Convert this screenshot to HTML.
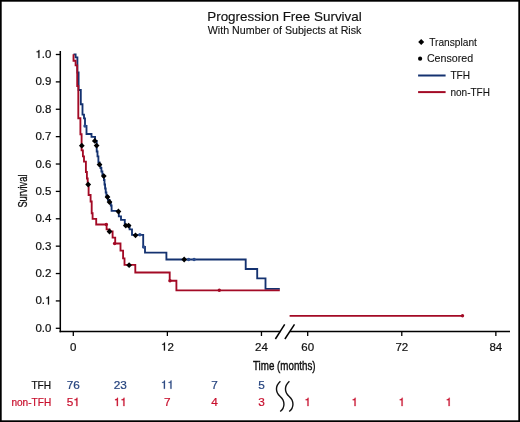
<!DOCTYPE html>
<html><head><meta charset="utf-8"><style>
html,body{margin:0;padding:0;background:#fff;overflow:hidden;width:520px;height:422px;}
svg{display:block;font-family:"Liberation Sans",sans-serif;will-change:transform;}
</style></head><body>
<svg width="520" height="422" viewBox="0 0 520 422">
<rect x="0.85" y="0.85" width="518.3" height="420.3" fill="#fff" stroke="#000" stroke-width="1.7"/>
<text x="207.2" y="21" font-size="13.6" textLength="154.6" lengthAdjust="spacingAndGlyphs" fill="#111" stroke="#111" stroke-width="0.15">Progression Free Survival</text>
<text x="207.8" y="34.2" font-size="10.6" textLength="153.6" lengthAdjust="spacingAndGlyphs" fill="#111" stroke="#111" stroke-width="0.12">With Number of Subjects at Risk</text>
<g stroke="#000" fill="none">
<line x1="60.3" y1="50.9" x2="60.3" y2="332.3" stroke-width="1.5"/>
<line x1="59.6" y1="331.5" x2="280.4" y2="331.5" stroke-width="1.6"/>
<line x1="290" y1="331.5" x2="510" y2="331.5" stroke-width="1.6"/>
<line x1="55.8" y1="54.50" x2="60.3" y2="54.50" stroke-width="1.3"/>
<line x1="55.8" y1="81.88" x2="60.3" y2="81.88" stroke-width="1.3"/>
<line x1="55.8" y1="109.26" x2="60.3" y2="109.26" stroke-width="1.3"/>
<line x1="55.8" y1="136.64" x2="60.3" y2="136.64" stroke-width="1.3"/>
<line x1="55.8" y1="164.02" x2="60.3" y2="164.02" stroke-width="1.3"/>
<line x1="55.8" y1="191.40" x2="60.3" y2="191.40" stroke-width="1.3"/>
<line x1="55.8" y1="218.78" x2="60.3" y2="218.78" stroke-width="1.3"/>
<line x1="55.8" y1="246.16" x2="60.3" y2="246.16" stroke-width="1.3"/>
<line x1="55.8" y1="273.54" x2="60.3" y2="273.54" stroke-width="1.3"/>
<line x1="55.8" y1="300.92" x2="60.3" y2="300.92" stroke-width="1.3"/>
<line x1="55.8" y1="328.30" x2="60.3" y2="328.30" stroke-width="1.3"/>
<line x1="73.30" y1="331.5" x2="73.30" y2="336.0" stroke-width="1.3"/>
<line x1="167.38" y1="331.5" x2="167.38" y2="336.0" stroke-width="1.3"/>
<line x1="261.46" y1="331.5" x2="261.46" y2="336.0" stroke-width="1.3"/>
<line x1="307.70" y1="331.5" x2="307.70" y2="336.0" stroke-width="1.3"/>
<line x1="401.78" y1="331.5" x2="401.78" y2="336.0" stroke-width="1.3"/>
<line x1="495.86" y1="331.5" x2="495.86" y2="336.0" stroke-width="1.3"/>
<line x1="275.4" y1="339" x2="284.7" y2="324.4" stroke-width="1.5"/>
<line x1="284.9" y1="339" x2="294.5" y2="324.4" stroke-width="1.5"/>
</g>
<path transform="translate(35.41 58.00) scale(0.01150 -0.01150)" d="M350 0L350 703L285 703C270 620 200 575 105 570L105 505L255 505L255 0Z" fill="#111" stroke="#111" stroke-width="19.0"/>
<text x="41.81" y="58.00" font-size="11.5" fill="#111" stroke="#111" stroke-width="0.22">.</text>
<text x="45.00" y="58.00" font-size="11.5" fill="#111" stroke="#111" stroke-width="0.22">0</text>
<text x="35.41" y="85.38" font-size="11.5" fill="#111" stroke="#111" stroke-width="0.22">0</text>
<text x="41.81" y="85.38" font-size="11.5" fill="#111" stroke="#111" stroke-width="0.22">.</text>
<text x="45.00" y="85.38" font-size="11.5" fill="#111" stroke="#111" stroke-width="0.22">9</text>
<text x="35.41" y="112.76" font-size="11.5" fill="#111" stroke="#111" stroke-width="0.22">0</text>
<text x="41.81" y="112.76" font-size="11.5" fill="#111" stroke="#111" stroke-width="0.22">.</text>
<text x="45.00" y="112.76" font-size="11.5" fill="#111" stroke="#111" stroke-width="0.22">8</text>
<text x="35.41" y="140.14" font-size="11.5" fill="#111" stroke="#111" stroke-width="0.22">0</text>
<text x="41.81" y="140.14" font-size="11.5" fill="#111" stroke="#111" stroke-width="0.22">.</text>
<text x="45.00" y="140.14" font-size="11.5" fill="#111" stroke="#111" stroke-width="0.22">7</text>
<text x="35.41" y="167.52" font-size="11.5" fill="#111" stroke="#111" stroke-width="0.22">0</text>
<text x="41.81" y="167.52" font-size="11.5" fill="#111" stroke="#111" stroke-width="0.22">.</text>
<text x="45.00" y="167.52" font-size="11.5" fill="#111" stroke="#111" stroke-width="0.22">6</text>
<text x="35.41" y="194.90" font-size="11.5" fill="#111" stroke="#111" stroke-width="0.22">0</text>
<text x="41.81" y="194.90" font-size="11.5" fill="#111" stroke="#111" stroke-width="0.22">.</text>
<text x="45.00" y="194.90" font-size="11.5" fill="#111" stroke="#111" stroke-width="0.22">5</text>
<text x="35.41" y="222.28" font-size="11.5" fill="#111" stroke="#111" stroke-width="0.22">0</text>
<text x="41.81" y="222.28" font-size="11.5" fill="#111" stroke="#111" stroke-width="0.22">.</text>
<text x="45.00" y="222.28" font-size="11.5" fill="#111" stroke="#111" stroke-width="0.22">4</text>
<text x="35.41" y="249.66" font-size="11.5" fill="#111" stroke="#111" stroke-width="0.22">0</text>
<text x="41.81" y="249.66" font-size="11.5" fill="#111" stroke="#111" stroke-width="0.22">.</text>
<text x="45.00" y="249.66" font-size="11.5" fill="#111" stroke="#111" stroke-width="0.22">3</text>
<text x="35.41" y="277.04" font-size="11.5" fill="#111" stroke="#111" stroke-width="0.22">0</text>
<text x="41.81" y="277.04" font-size="11.5" fill="#111" stroke="#111" stroke-width="0.22">.</text>
<text x="45.00" y="277.04" font-size="11.5" fill="#111" stroke="#111" stroke-width="0.22">2</text>
<text x="35.41" y="304.42" font-size="11.5" fill="#111" stroke="#111" stroke-width="0.22">0</text>
<text x="41.81" y="304.42" font-size="11.5" fill="#111" stroke="#111" stroke-width="0.22">.</text>
<path transform="translate(45.00 304.42) scale(0.01150 -0.01150)" d="M350 0L350 703L285 703C270 620 200 575 105 570L105 505L255 505L255 0Z" fill="#111" stroke="#111" stroke-width="19.0"/>
<text x="35.41" y="331.80" font-size="11.5" fill="#111" stroke="#111" stroke-width="0.22">0</text>
<text x="41.81" y="331.80" font-size="11.5" fill="#111" stroke="#111" stroke-width="0.22">.</text>
<text x="45.00" y="331.80" font-size="11.5" fill="#111" stroke="#111" stroke-width="0.22">0</text>
<text x="70.10" y="350.50" font-size="11.5" fill="#111" stroke="#111" stroke-width="0.22">0</text>
<path transform="translate(160.98 350.50) scale(0.01150 -0.01150)" d="M350 0L350 703L285 703C270 620 200 575 105 570L105 505L255 505L255 0Z" fill="#111" stroke="#111" stroke-width="19.0"/>
<text x="167.38" y="350.50" font-size="11.5" fill="#111" stroke="#111" stroke-width="0.22">2</text>
<text x="255.06" y="350.50" font-size="11.5" fill="#111" stroke="#111" stroke-width="0.22">2</text>
<text x="261.46" y="350.50" font-size="11.5" fill="#111" stroke="#111" stroke-width="0.22">4</text>
<text x="301.30" y="350.50" font-size="11.5" fill="#111" stroke="#111" stroke-width="0.22">6</text>
<text x="307.70" y="350.50" font-size="11.5" fill="#111" stroke="#111" stroke-width="0.22">0</text>
<text x="395.38" y="350.50" font-size="11.5" fill="#111" stroke="#111" stroke-width="0.22">7</text>
<text x="401.78" y="350.50" font-size="11.5" fill="#111" stroke="#111" stroke-width="0.22">2</text>
<text x="489.46" y="350.50" font-size="11.5" fill="#111" stroke="#111" stroke-width="0.22">8</text>
<text x="495.86" y="350.50" font-size="11.5" fill="#111" stroke="#111" stroke-width="0.22">4</text>
<text x="253.0" y="370.2" font-size="13.6" textLength="62.6" lengthAdjust="spacingAndGlyphs" fill="#111" stroke="#111" stroke-width="0.45">Time (months)</text>
<text transform="translate(26.6 191.05) rotate(-90)" x="-16.55" y="0" font-size="13.6" textLength="33.1" lengthAdjust="spacingAndGlyphs" fill="#111" stroke="#111" stroke-width="0.3">Survival</text>
<path d="M73.5 54.3 H75.6 V57.4 H77.4 V72.5 H78.6 V90 H80.8 V104.2 H82.5 V114.6 H84 V118.4 H85 V125.8 H86.5 V134
H91.5 V136.8 H95.1 V141 H96.7 V151.5 H97.5 V156.3 H98.4 V162.3 H99.6 V165.5 H100.5 V168 H101.4 V171.5 H102.4 V174.5 H103.2 V176.5 H103.9 V180 H104.5 V184.5 H105.1 V188.5 H105.7 V192.5 H106.4 V196.5
H108 V200 H109.6 V203 H110.8 V205.5 H111.6 V210.9 H118.8 V216.3 H121 V219.8 H124.8 V225.5 H129.6 V229.4 H132 V234.8 H143.2 V246.8
H145 V252.6 H166.4 V259.5 H245.7 V269 H257.2 V278.4 H265.5 V288.9 H279.8" fill="none" stroke="#143270" stroke-width="1.85"/>
<path d="M73.5 54.3 V60.7 H75.6 V65.4 H77.2 V86 H78.3 V118.2 H80.4 V134.2 H81.6 V150.3 H82.9 V156.3 H84 V161.6 H85.9 V172 H86.9 V178.5 H87.7 V184.5 H88.6 V195 H90.6 V201.5 H91.7 V213.2
H92.6 V218.8 H96.2 V224.5 H106.6 V229.3 H109.5 V231.4 H112.6 V237.6 H115.2 V243.5 H120.5 V250.6 H123.1 V258.3 H124.5 V264.9 H135.3 V272.5
H169.7 V280.7 H176.4 V290.3 H279.8" fill="none" stroke="#a30a25" stroke-width="1.85"/>
<path d="M289.6 315.8 H462.5" fill="none" stroke="#a30a25" stroke-width="1.85"/>
<circle cx="106.3" cy="224.5" r="1.7" fill="#a30a25"/>
<circle cx="114.6" cy="243.5" r="1.7" fill="#a30a25"/>
<circle cx="170" cy="280.7" r="1.7" fill="#a30a25"/>
<circle cx="219.3" cy="290.3" r="1.7" fill="#a30a25"/>
<circle cx="462.5" cy="315.8" r="1.7" fill="#a30a25"/>
<circle cx="139.9" cy="234.8" r="1.7" fill="#2c4c8c"/>
<circle cx="143.7" cy="247" r="1.7" fill="#2c4c8c"/>
<circle cx="188.6" cy="259.5" r="1.7" fill="#2c4c8c"/>
<circle cx="194.1" cy="259.5" r="1.7" fill="#2c4c8c"/>
<circle cx="85" cy="126" r="1.7" fill="#2c4c8c"/>
<path d="M81.8 142.8 L84.7 145.7 L81.8 148.6 L78.9 145.7 Z" fill="#000"/>
<path d="M88.2 181.6 L91.1 184.5 L88.2 187.4 L85.3 184.5 Z" fill="#000"/>
<path d="M109.5 228.6 L112.4 231.5 L109.5 234.4 L106.6 231.5 Z" fill="#000"/>
<path d="M129.1 262.3 L132.0 265.2 L129.1 268.1 L126.2 265.2 Z" fill="#000"/>
<path d="M94.8 138.0 L97.7 140.9 L94.8 143.8 L91.9 140.9 Z" fill="#000"/>
<path d="M96.6 142.7 L99.5 145.6 L96.6 148.5 L93.7 145.6 Z" fill="#000"/>
<path d="M99.5 161.7 L102.4 164.6 L99.5 167.5 L96.6 164.6 Z" fill="#000"/>
<path d="M103.8 173.2 L106.7 176.1 L103.8 179.0 L100.9 176.1 Z" fill="#000"/>
<path d="M107.5 194.1 L110.4 197.0 L107.5 199.9 L104.6 197.0 Z" fill="#000"/>
<path d="M109.5 199.1 L112.4 202.0 L109.5 204.9 L106.6 202.0 Z" fill="#000"/>
<path d="M118.4 208.6 L121.3 211.5 L118.4 214.4 L115.5 211.5 Z" fill="#000"/>
<path d="M125.8 222.7 L128.7 225.6 L125.8 228.5 L122.9 225.6 Z" fill="#000"/>
<path d="M128.6 222.7 L131.5 225.6 L128.6 228.5 L125.7 225.6 Z" fill="#000"/>
<path d="M135.5 232.4 L138.4 235.3 L135.5 238.2 L132.6 235.3 Z" fill="#000"/>
<path d="M184.2 256.6 L187.1 259.5 L184.2 262.4 L181.3 259.5 Z" fill="#000"/>
<path d="M421.2 39.0 L424.2 42.0 L421.2 45.0 L418.2 42.0 Z" fill="#000"/>
<text x="429.2" y="45.6" font-size="11.3" textLength="47.7" lengthAdjust="spacingAndGlyphs" fill="#111" stroke="#111" stroke-width="0.1">Transplant</text>
<circle cx="420.1" cy="58.7" r="2.1" fill="#000"/>
<text x="426.9" y="62.4" font-size="11" textLength="46.2" lengthAdjust="spacingAndGlyphs" fill="#111" stroke="#111" stroke-width="0.1">Censored</text>
<line x1="418.1" y1="75.5" x2="445.6" y2="75.5" stroke="#143270" stroke-width="2"/>
<text x="450.4" y="78.9" font-size="11" textLength="19.7" lengthAdjust="spacingAndGlyphs" fill="#111" stroke="#111" stroke-width="0.1">TFH</text>
<line x1="418.1" y1="92.1" x2="445.6" y2="92.1" stroke="#a30a25" stroke-width="2"/>
<text x="450.4" y="95.8" font-size="11" textLength="39.6" lengthAdjust="spacingAndGlyphs" fill="#111" stroke="#111" stroke-width="0.1">non-TFH</text>
<text x="31.4" y="388.6" font-size="10.8" textLength="19.8" lengthAdjust="spacingAndGlyphs" fill="#111" stroke="#111" stroke-width="0.22">TFH</text>
<text x="11.4" y="406.2" font-size="10.8" textLength="39.8" lengthAdjust="spacingAndGlyphs" fill="#c8102e" stroke="#c8102e" stroke-width="0.22">non-TFH</text>
<text x="66.74" y="388.80" font-size="11.8" fill="#26447f" stroke="#26447f" stroke-width="0.22">7</text>
<text x="73.30" y="388.80" font-size="11.8" fill="#26447f" stroke="#26447f" stroke-width="0.22">6</text>
<text x="113.78" y="388.80" font-size="11.8" fill="#26447f" stroke="#26447f" stroke-width="0.22">2</text>
<text x="120.34" y="388.80" font-size="11.8" fill="#26447f" stroke="#26447f" stroke-width="0.22">3</text>
<path transform="translate(160.82 388.80) scale(0.01180 -0.01180)" d="M350 0L350 703L285 703C270 620 200 575 105 570L105 505L255 505L255 0Z" fill="#26447f" stroke="#26447f" stroke-width="19.0"/>
<path transform="translate(167.38 388.80) scale(0.01180 -0.01180)" d="M350 0L350 703L285 703C270 620 200 575 105 570L105 505L255 505L255 0Z" fill="#26447f" stroke="#26447f" stroke-width="19.0"/>
<text x="211.14" y="388.80" font-size="11.8" fill="#26447f" stroke="#26447f" stroke-width="0.22">7</text>
<text x="258.18" y="388.80" font-size="11.8" fill="#26447f" stroke="#26447f" stroke-width="0.22">5</text>
<text x="66.74" y="406.10" font-size="11.8" fill="#c8102e" stroke="#c8102e" stroke-width="0.22">5</text>
<path transform="translate(73.30 406.10) scale(0.01180 -0.01180)" d="M350 0L350 703L285 703C270 620 200 575 105 570L105 505L255 505L255 0Z" fill="#c8102e" stroke="#c8102e" stroke-width="19.0"/>
<path transform="translate(113.78 406.10) scale(0.01180 -0.01180)" d="M350 0L350 703L285 703C270 620 200 575 105 570L105 505L255 505L255 0Z" fill="#c8102e" stroke="#c8102e" stroke-width="19.0"/>
<path transform="translate(120.34 406.10) scale(0.01180 -0.01180)" d="M350 0L350 703L285 703C270 620 200 575 105 570L105 505L255 505L255 0Z" fill="#c8102e" stroke="#c8102e" stroke-width="19.0"/>
<text x="164.10" y="406.10" font-size="11.8" fill="#c8102e" stroke="#c8102e" stroke-width="0.22">7</text>
<text x="211.14" y="406.10" font-size="11.8" fill="#c8102e" stroke="#c8102e" stroke-width="0.22">4</text>
<text x="258.18" y="406.10" font-size="11.8" fill="#c8102e" stroke="#c8102e" stroke-width="0.22">3</text>
<path transform="translate(304.42 406.10) scale(0.01180 -0.01180)" d="M350 0L350 703L285 703C270 620 200 575 105 570L105 505L255 505L255 0Z" fill="#c8102e" stroke="#c8102e" stroke-width="19.0"/>
<path transform="translate(351.46 406.10) scale(0.01180 -0.01180)" d="M350 0L350 703L285 703C270 620 200 575 105 570L105 505L255 505L255 0Z" fill="#c8102e" stroke="#c8102e" stroke-width="19.0"/>
<path transform="translate(398.50 406.10) scale(0.01180 -0.01180)" d="M350 0L350 703L285 703C270 620 200 575 105 570L105 505L255 505L255 0Z" fill="#c8102e" stroke="#c8102e" stroke-width="19.0"/>
<path transform="translate(445.54 406.10) scale(0.01180 -0.01180)" d="M350 0L350 703L285 703C270 620 200 575 105 570L105 505L255 505L255 0Z" fill="#c8102e" stroke="#c8102e" stroke-width="19.0"/>
<path d="M280.4 381.3 C275.2 386, 275.2 392, 280.2 396.5 C285.2 401, 285.2 407.5, 280.2 411.5" fill="none" stroke="#111" stroke-width="1.4"/>
<path d="M289.4 381.3 C284.2 386, 284.2 392, 289.2 396.5 C294.2 401, 294.2 407.5, 289.2 411.5" fill="none" stroke="#111" stroke-width="1.4"/>
</svg>
</body></html>
